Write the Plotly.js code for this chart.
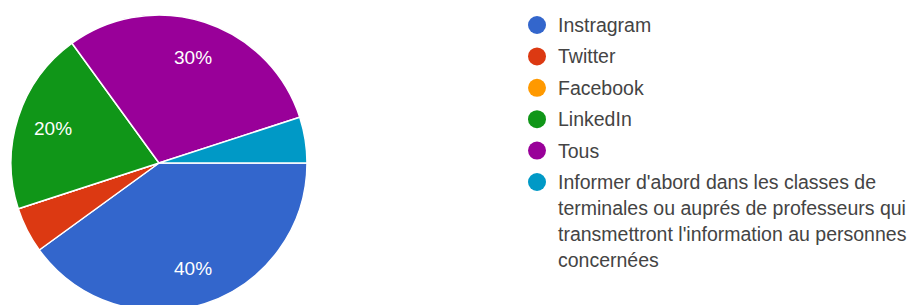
<!DOCTYPE html>
<html>
<head>
<meta charset="utf-8">
<script src="https://cdn.plot.ly/plotly-3.0.1.min.js"></script>
<style>
html,body{margin:0;padding:0;background:#fff;overflow:hidden;}
#chart{width:912px;height:320px;}
</style>
</head>
<body>
<div id="chart"></div>
<script>
// ---- data ----
const labels = [
  "Instragram",
  "Twitter",
  "Facebook",
  "LinkedIn",
  "Tous",
  "Informer d'abord dans les classes de\nterminales ou auprés de professeurs qui\ntransmettront l'information au personnes\nconcernées"
];
const values = [40, 5, 0, 20, 30, 5];
const colors = ["#3366cc", "#dc3912", "#ff9900", "#109618", "#990099", "#0099c6"];

// ---- build ----
const W = 912, H = 320;
const FONT = "Arial, 'Liberation Sans', sans-serif";
const total = values.reduce((a, b) => a + b, 0);

const mL = 11, mT = 15, mB = 9;
const pieSize = H - mT - mB;
const R = pieSize / 2, cx = mL + R, cy = mT + R;

const toPy = y => 1 - (y - mT) / pieSize;   // pixel y -> paper
const toPx = x => (x - mL) / (W - mL);      // pixel x -> paper

const trace = {
  type: "pie",
  labels: labels.map(l => l.replace(/\n/g, " ")),
  values: values,
  textinfo: "none",
  sort: false,
  direction: "clockwise",
  rotation: 90,
  marker: { colors: colors, line: { color: "#ffffff", width: 1.5 } },
  domain: { x: [0, pieSize / (W - mL)], y: [0, 1] },
  showlegend: false,
  hoverinfo: "label+percent"
};

const annotations = [];
const shapes = [];

// slice percentage labels (Google-Charts style: shown for slices >= 10%)
let cum = 0;
values.forEach(v => {
  const frac = v / total;
  const mid = (cum + frac / 2) * 2 * Math.PI; // clockwise from 3 o'clock
  cum += frac;
  if (frac < 0.1) return;
  const rr = 0.75 * R;
  annotations.push({
    xref: "paper", yref: "paper",
    x: toPx(cx + rr * Math.cos(mid)), y: toPy(cy + rr * Math.sin(mid)),
    xanchor: "center", yanchor: "middle",
    text: Math.round(frac * 100) + "%", showarrow: false,
    font: { family: FONT, size: 19, color: "#ffffff" }
  });
});

// custom legend (Google-Forms style spacing)
const legX = 537, txtX = 556, rowGap = 31.4, lineGap = 26, firstY = 25, dot = 9;
let y = firstY;
labels.forEach((lab, i) => {
  const lines = lab.split("\n");
  shapes.push({
    type: "circle", xref: "paper", yref: "paper",
    x0: toPx(legX - dot), x1: toPx(legX + dot),
    y0: toPy(y + dot), y1: toPy(y - dot),
    fillcolor: colors[i], line: { width: 0 }
  });
  lines.forEach((ln, j) => {
    annotations.push({
      xref: "paper", yref: "paper",
      x: toPx(txtX), y: toPy(y + j * lineGap),
      xanchor: "left", yanchor: "middle",
      text: ln, showarrow: false,
      font: { family: FONT, size: 19.5, color: "#444444" }
    });
  });
  y += rowGap;
});

const layout = {
  width: W, height: H,
  margin: { l: mL, r: 0, t: mT, b: mB },
  paper_bgcolor: "#ffffff",
  showlegend: false,
  annotations: annotations,
  shapes: shapes
};

Plotly.newPlot("chart", [trace], layout, { displayModeBar: false, staticPlot: true });
</script>
</body>
</html>
